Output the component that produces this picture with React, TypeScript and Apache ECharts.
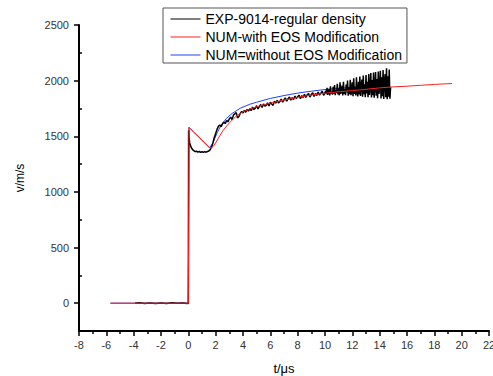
import React, { useEffect, useRef } from "react";
import * as echarts from "echarts";

const seriesNames = [
  "EXP-9014-regular density",
  "NUM-with EOS Modification",
  "NUM=without EOS Modification",
];

const expData: [number, number][] = [
  [-3.9, 0], [-3.6, 3], [-3.2, -2], [-2.8, 2], [-2.4, -3], [-2.0, 1], [-1.6, -2], [-1.2, 3], [-0.8, -1], [-0.4, 2], [-0.1, -2], [0, 0],
  [0.02, 1555], [0.05, 1490], [0.1, 1440], [0.2, 1402], [0.3, 1382], [0.4, 1370], [0.5, 1362], [0.6, 1366], [0.7, 1358], [0.8, 1363],
  [0.9, 1356], [1.0, 1361], [1.1, 1355], [1.2, 1362], [1.3, 1357], [1.4, 1363], [1.5, 1367], [1.6, 1380], [1.7, 1402], [1.8, 1442],
  [1.9, 1490], [2.0, 1525], [2.1, 1562], [2.2, 1590], [2.3, 1602], [2.4, 1586], [2.5, 1612], [2.6, 1626], [2.7, 1614], [2.8, 1642],
  [2.9, 1630], [3.0, 1656], [3.1, 1672], [3.2, 1650], [3.3, 1690], [3.4, 1702], [3.5, 1712], [3.6, 1665], [3.7, 1678], [3.8, 1706],
  [3.9, 1722], [4.0, 1710], [4.1, 1732], [4.2, 1716], [4.3, 1742], [4.4, 1726],
  [4.5, 1748], [4.6, 1730], [4.7, 1762], [4.8, 1740], [4.9, 1752], [5.0, 1775], [5.1, 1745], [5.2, 1768], [5.3, 1785], [5.4, 1758],
  [5.5, 1790], [5.6, 1770], [5.7, 1778], [5.8, 1800], [5.9, 1772], [6.0, 1805], [6.1, 1790], [6.2, 1778], [6.3, 1815], [6.4, 1798],
  [6.5, 1822], [6.6, 1800], [6.7, 1812], [6.8, 1835], [6.9, 1806], [7.0, 1828], [7.1, 1845], [7.2, 1815], [7.3, 1838], [7.4, 1852],
  [7.5, 1825], [7.6, 1848], [7.7, 1830], [7.8, 1862], [7.9, 1840], [8.0, 1855], [8.1, 1870], [8.2, 1838], [8.3, 1865], [8.4, 1848],
  [8.5, 1878], [8.6, 1850], [8.7, 1872], [8.8, 1885], [8.9, 1852], [9.0, 1876], [9.1, 1892], [9.2, 1858], [9.3, 1884], [9.4, 1866],
  [9.5, 1898], [9.6, 1870], [9.7, 1888], [9.8, 1905], [9.9, 1868], [10.0, 1892],
  [10.05, 1910], [10.1, 1880], [10.15, 1935], [10.2, 1872], [10.25, 1898], [10.3, 1925], [10.35, 1868], [10.4, 1950], [10.45, 1885],
  [10.5, 1902], [10.55, 1874], [10.6, 1945], [10.65, 1880], [10.7, 1960], [10.75, 1870], [10.8, 1915], [10.85, 1890], [10.9, 1972],
  [10.95, 1876], [11.0, 1930], [11.05, 1868], [11.1, 1985], [11.15, 1882], [11.2, 1910], [11.25, 1955], [11.3, 1866], [11.35, 1990],
  [11.4, 1880], [11.45, 1925], [11.5, 1870], [11.55, 1965], [11.6, 1895], [11.65, 2000], [11.7, 1864], [11.75, 1940], [11.8, 1878],
  [11.85, 2008], [11.9, 1870], [11.95, 1925], [12.0, 1985], [12.05, 1860], [12.1, 2022], [12.15, 1880], [12.2, 1945], [12.25, 1866],
  [12.3, 2030], [12.35, 1900], [12.4, 1858], [12.45, 1990], [12.5, 1875], [12.55, 2036], [12.6, 1862], [12.65, 1950], [12.7, 2010],
  [12.75, 1856], [12.8, 2045], [12.85, 1878], [12.9, 1968], [12.95, 1852], [13.0, 2050], [13.05, 1885], [13.1, 1990], [13.15, 1850],
  [13.2, 2060], [13.25, 1872], [13.3, 1935], [13.35, 2068], [13.4, 1848], [13.45, 2005], [13.5, 1870], [13.55, 2072], [13.6, 1846],
  [13.65, 1960], [13.7, 2078], [13.75, 1864], [13.8, 2015], [13.85, 1842], [13.9, 2082], [13.95, 1880], [14.0, 1950], [14.05, 2088],
  [14.1, 1840], [14.15, 2030], [14.2, 1860], [14.25, 2095], [14.3, 1836], [14.35, 1990], [14.4, 2060], [14.45, 1850], [14.5, 2112],
  [14.55, 1832], [14.6, 2040], [14.65, 1855], [14.7, 2100], [14.75, 1838], [14.8, 1940],
];

const withEosData: [number, number][] = [
  [-5.7, 0], [0, 0], [0.05, 1580], [1.6, 1395], [1.8, 1405], [2.0, 1440], [2.3, 1505], [2.6, 1562], [3.0, 1620], [3.5, 1680],
  [4.0, 1720], [4.5, 1745], [5.0, 1765], [6.0, 1798], [7.0, 1825], [8.0, 1850], [9.0, 1870], [10.0, 1887], [11.0, 1900],
  [12.0, 1910], [13.0, 1922], [14.0, 1935], [15.0, 1944], [16.0, 1950], [17.0, 1958], [18.0, 1966], [19.3, 1974],
];

const withoutEosData: [number, number][] = [
  [-5.7, 0], [0, 0], [0.05, 1580], [1.55, 1395], [1.8, 1440], [2.1, 1530], [2.4, 1600], [2.8, 1662], [3.2, 1705], [3.8, 1752],
  [4.5, 1788], [5.0, 1806], [6.0, 1840], [7.0, 1866], [8.0, 1888], [9.0, 1905], [10.0, 1920], [11.0, 1931], [12.0, 1939],
  [13.0, 1944], [14.0, 1948], [14.7, 1950],
];

const yMajorTicks = [0, 500, 1000, 1500, 2000, 2500];
const yMinorTicks = [250, 750, 1250, 1750, 2250];

const FONT = 'Arial, "Liberation Sans", sans-serif';
const AXIS_COLOR = "#000000";

export default function App() {
  const ref = useRef<HTMLDivElement>(null);
  useEffect(() => {
    if (!ref.current) return;
    const chart = echarts.init(ref.current, undefined, { renderer: "svg" });
    const axisLineStyle = { color: AXIS_COLOR, width: 2 };
    const tickStyle = { color: AXIS_COLOR, width: 1.5 };
    chart.setOption({
      animation: false,
      backgroundColor: "#fff",
      grid: { left: 79, right: 4, top: 25, bottom: 45, containLabel: false, outerBoundsMode: "none" },
      legend: {
        orient: "vertical",
        left: 163,
        top: 8,
        itemWidth: 30,
        itemHeight: 14,
        itemGap: 4,
        padding: [4, 5, 1, 7],
        borderColor: "#555",
        borderWidth: 1,
        backgroundColor: "#fff",
        itemStyle: { opacity: 0 },
        lineStyle: { width: 1, opacity: 1 },
        textStyle: { fontSize: 14, color: "#000", fontFamily: FONT },
        data: seriesNames,
      },
      xAxis: {
        type: "value",
        min: -8,
        max: 22,
        interval: 2,
        name: "t/\u03bcs",
        nameLocation: "middle",
        nameGap: 31,
        nameTextStyle: { fontSize: 13, color: "#000", fontFamily: FONT },
        axisLine: { show: true, onZero: false, lineStyle: axisLineStyle },
        axisTick: { show: true, inside: false, length: 5, lineStyle: tickStyle },
        minorTick: { show: true, splitNumber: 2, length: 3, lineStyle: tickStyle },
        axisLabel: { fontSize: 11, color: "#333", margin: 8, fontFamily: FONT, formatter: (v: number) => String(v) },
        splitLine: { show: false },
        minorSplitLine: { show: false },
      },
      yAxis: [
        {
          type: "value",
          min: -250,
          max: 2500,
          position: "left",
          name: "v/m/s",
          nameLocation: "middle",
          nameGap: 53,
          nameTextStyle: { fontSize: 12, color: "#000", fontFamily: FONT },
          axisLine: { show: true, onZero: false, lineStyle: axisLineStyle },
          axisTick: { show: true, inside: false, length: 5, customValues: yMajorTicks, lineStyle: tickStyle },
          axisLabel: {
            fontSize: 11,
            color: "#333",
            margin: 10,
            customValues: yMajorTicks,
            fontFamily: FONT,
            formatter: (v: number) => String(v),
          },
          splitLine: { show: false },
        },
        {
          type: "value",
          min: -250,
          max: 2500,
          position: "left",
          offset: 0,
          axisLine: { show: false, onZero: false },
          axisTick: { show: true, inside: true, length: 3, customValues: yMinorTicks, lineStyle: tickStyle },
          axisLabel: { show: false, customValues: yMinorTicks },
          splitLine: { show: false },
        },
      ],
      series: [
        {
          name: seriesNames[2],
          type: "line",
          data: withoutEosData,
          symbol: "none",
          color: "#2040ff",
          lineStyle: { width: 1, color: "#2040ff" },
        },
        {
          name: seriesNames[0],
          type: "line",
          data: expData,
          symbol: "none",
          color: "#000",
          lineStyle: { width: 1.5, color: "#000" },
        },
        {
          name: seriesNames[1],
          type: "line",
          data: withEosData,
          symbol: "none",
          color: "#ff2020",
          lineStyle: { width: 1, color: "#ff2020" },
        },
      ],
    });
    return () => chart.dispose();
  }, []);
  return (
    <div
      ref={ref}
      style={{ position: "fixed", left: 0, top: 0, width: 493, height: 376, background: "#fff" }}
    />
  );
}
